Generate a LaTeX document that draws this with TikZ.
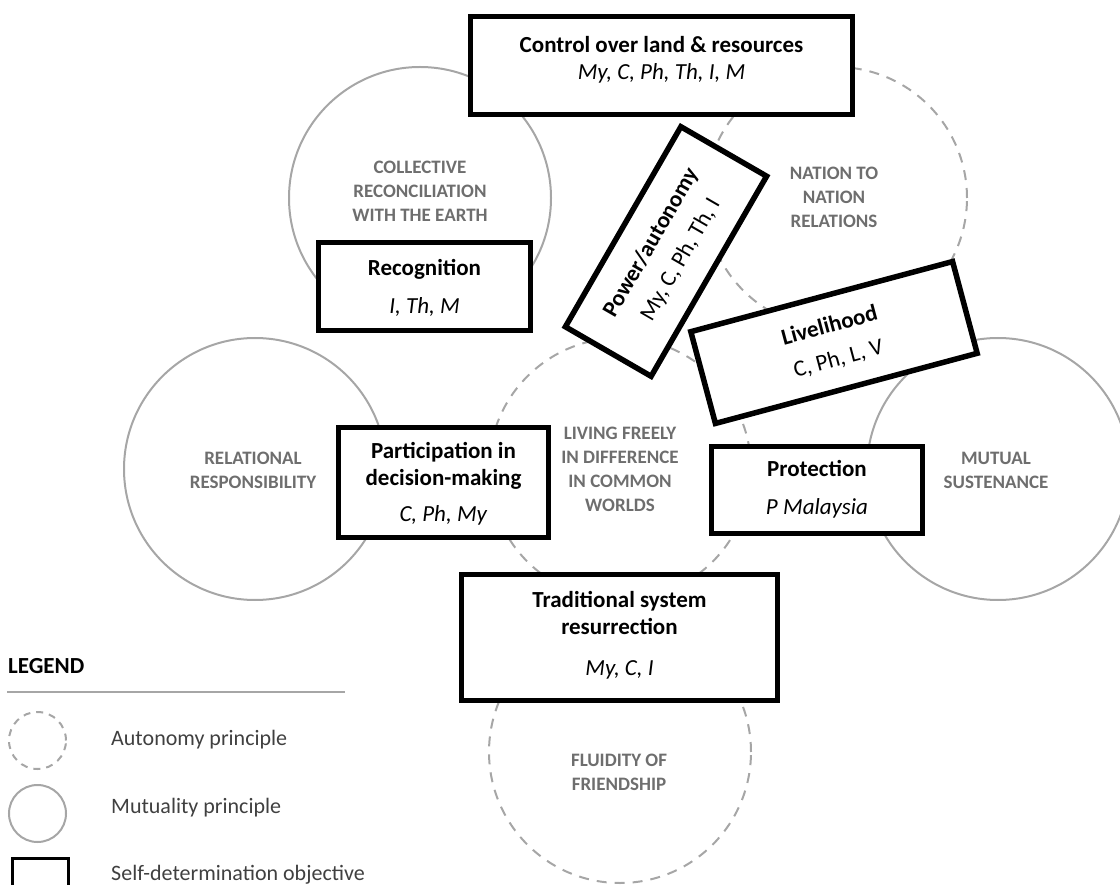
\documentclass[tikz,border=0pt]{standalone}
\usepackage{fontspec}
\setmainfont{Carlito}
\definecolor{circ}{HTML}{A6A6A6}
\definecolor{ctext}{HTML}{6E6E6E}
\definecolor{legtext}{HTML}{404040}
\begin{document}
\begin{tikzpicture}[x=1pt,y=-1pt,
  mcirc/.style={circle, draw=circ, line width=2pt, minimum size=262pt, inner sep=0pt},
  acirc/.style={mcirc, dash pattern=on 10pt off 8pt},
  clabel/.style={text=ctext, font=\fontsize{19}{24}\selectfont\bfseries, align=center, inner sep=0pt},
  objbox/.style={draw=black, line width=5.5pt, fill=white, inner sep=0pt},
  objtext/.style={align=center, font=\fontsize{23}{27}\selectfont, inner sep=0pt},
  legtxt/.style={anchor=west, text=legtext, font=\fontsize{22}{26}\selectfont, inner sep=0pt}
]
\useasboundingbox (0,0) rectangle (1120,885);
% principles (circles)
\node[mcirc] (cre) at (420,198) {};
\node[acirc] (nat) at (836,198) {};
\node[mcirc] (rel) at (255,469) {};
\node[acirc] (liv) at (620,469) {};
\node[mcirc] (mut) at (998,469) {};
\node[acirc] (flu) at (620,752) {};
\node[clabel] (lcre) at (420,191) {COLLECTIVE\\RECONCILIATION\\WITH THE EARTH};
\node[clabel] (lnat) at (834,197) {NATION TO\\NATION\\RELATIONS};
\node[clabel] (lrel) at (253,470) {RELATIONAL\\RESPONSIBILITY};
\node[clabel] (lliv) at (620,469) {LIVING FREELY\\IN DIFFERENCE\\IN COMMON\\WORLDS};
\node[clabel] (lmut) at (996,470) {MUTUAL\\SUSTENANCE};
\node[clabel] (lflu) at (619,772) {FLUIDITY OF\\FRIENDSHIP};
% objectives (boxes)
\node[objbox, minimum width=382pt, minimum height=98pt] (ctrl) at (661.5,65.5) {};
\node[objtext] (tctrl) at (661.5,59.5) {\textbf{Control over land \& resources}\\\textit{My, C, Ph, Th, I, M}};
\node[objbox, minimum width=212pt, minimum height=88pt] (rec) at (424.5,286.5) {};
\node[objtext] (trec) at (424.5,288) {\textbf{Recognition}\\[11pt]\textit{I, Th, M}};
\node[objbox, minimum width=210pt, minimum height=110pt] (par) at (443.5,482.5) {};
\node[objtext] (tpar) at (443.5,483.5) {\textbf{Participation in}\\\textbf{decision-making}\\[9pt]\textit{C, Ph, My}};
\node[objbox, minimum width=211pt, minimum height=87pt] (pro) at (817,490) {};
\node[objtext] (tpro) at (817,489) {\textbf{Protection}\\[11pt]\textit{P Malaysia}};
\node[objbox, minimum width=316pt, minimum height=126pt] (tra) at (619.5,637.5) {};
\node[objtext] (ttra) at (619.5,635) {\textbf{Traditional system}\\\textbf{resurrection}\\[14pt]\textit{My, C, I}};
\node[objbox, objtext, rotate=60, minimum width=231pt, minimum height=99pt] (pow) at (666,251.5) {\textbf{Power/autonomy}\\[7pt]My, C, Ph, Th, I};
\node[objbox, objtext, rotate=15, minimum width=271pt, minimum height=95pt] (liveli) at (834,342.5) {\textbf{Livelihood}\\[7pt]C, Ph, L, V};
% legend
\node[anchor=west, font=\fontsize{23}{27}\selectfont\bfseries, inner sep=0pt] (leg) at (8,666) {LEGEND};
\coordinate (l1) at (7,692);
\coordinate (l2) at (345,692);
\draw[circ, line width=2pt] (l1) -- (l2);
\node[acirc, minimum size=57pt, dash pattern=on 7pt off 6pt] (ka) at (37.5,740.5) {};
\node[mcirc, minimum size=57pt] (km) at (37.5,813.5) {};
\node[objbox, line width=3pt, minimum width=56pt, minimum height=56pt, anchor=north west] (ko) at (10.5,856.5) {};
\node[legtxt] (ta) at (111,740) {Autonomy principle};
\node[legtxt] (tm) at (111,808) {Mutuality principle};
\node[legtxt] (to) at (111,875) {Self-determination objective};
\end{tikzpicture}
\end{document}
